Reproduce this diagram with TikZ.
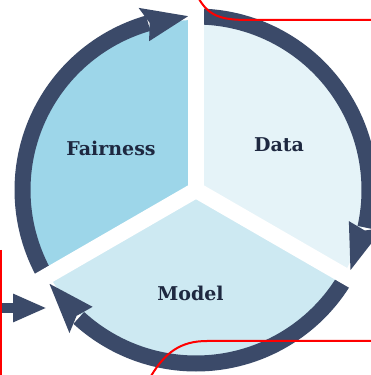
\documentclass[tikz,border=0pt]{standalone}
\usepackage{fontspec}
\newfontfamily\lblfont{DejaVu Serif}
\usetikzlibrary{arrows.meta}
\definecolor{ringc}{RGB}{59,74,105}
\definecolor{fairc}{RGB}{157,214,233}
\definecolor{datac}{RGB}{229,243,248}
\definecolor{modelc}{RGB}{205,233,242}
\definecolor{txtc}{RGB}{30,40,64}
\tikzset{
  lbl/.style={text=txtc, font=\lblfont\bfseries\fontsize{19}{22}\selectfont, inner sep=0pt},
  ringseg/.style={draw=ringc, line width=16pt, line cap=butt},
  head/.style={fill=ringc},
  strip/.style={draw=white, line width=16pt, line cap=butt},
  redline/.style={draw=red, line width=2pt},
}
\begin{document}
\begin{tikzpicture}[x=1pt,y=1pt]
\useasboundingbox (0,0) rectangle (371,375);
\clip (0,0) rectangle (371,375);
\fill[white] (0,0) rectangle (371,375);
\begin{scope}[shift={(196,185)}]
  % sectors
  \fill[fairc] (0,0) -- (90:170) arc[start angle=90,end angle=210,radius=170pt] -- cycle;
  \fill[datac] (0,0) -- (-30:170) arc[start angle=-30,end angle=90,radius=170pt] -- cycle;
  \fill[modelc] (0,0) -- (210:170) arc[start angle=210,end angle=330,radius=170pt] -- cycle;
  % ring segments
  \draw[ringseg] (210:173.5) arc[start angle=210,end angle=106,radius=173.5pt];
  \draw[ringseg] (90:173.5) arc[start angle=90,end angle=-12.5,radius=173.5pt];
  \draw[ringseg] (-30:173.5) arc[start angle=-30,end angle=-132.5,radius=173.5pt];
  % arrowheads
  \fill[head] (107.5:191) -- (92.6:174) -- (107.5:156) -- (105.5:173.5) -- cycle;
  \fill[head] (-11.5:191) -- (-27.4:174) -- (-11.5:156) -- (-13.5:173.5) -- cycle;
  \fill[head] (-131.5:191) -- (-147.4:174) -- (-131.5:156) -- (-133.5:173.5) -- cycle;
  % separators
  \draw[strip] (0,0) -- (90:200);
  \draw[strip] (0,0) -- (210:200);
  \draw[strip] (0,0) -- (330:200);
  \fill[white] (0,0) circle[radius=9pt];
\end{scope}
% labels
\node[lbl] (fair) at (111,227) {Fairness};
\node[lbl] (data) at (279,230) {Data};
\node[lbl] (model) at (190.5,82) {Model};
% incoming arrow
\coordinate (inS) at (0,67);
\coordinate (inE) at (47,67);
\draw[ringc, line width=10pt, -{Triangle[length=34pt,width=26pt]}] (inS) -- (inE);
% red lines
\draw[redline] (199,376) .. controls (210,357) and (225,355) .. (250,355) -- (372,355);
\draw[redline] (1,125) -- (1,-1);
\draw[redline] (151,-1) .. controls (165,22) and (180,34) .. (207,34) -- (372,34);
\end{tikzpicture}
\end{document}
